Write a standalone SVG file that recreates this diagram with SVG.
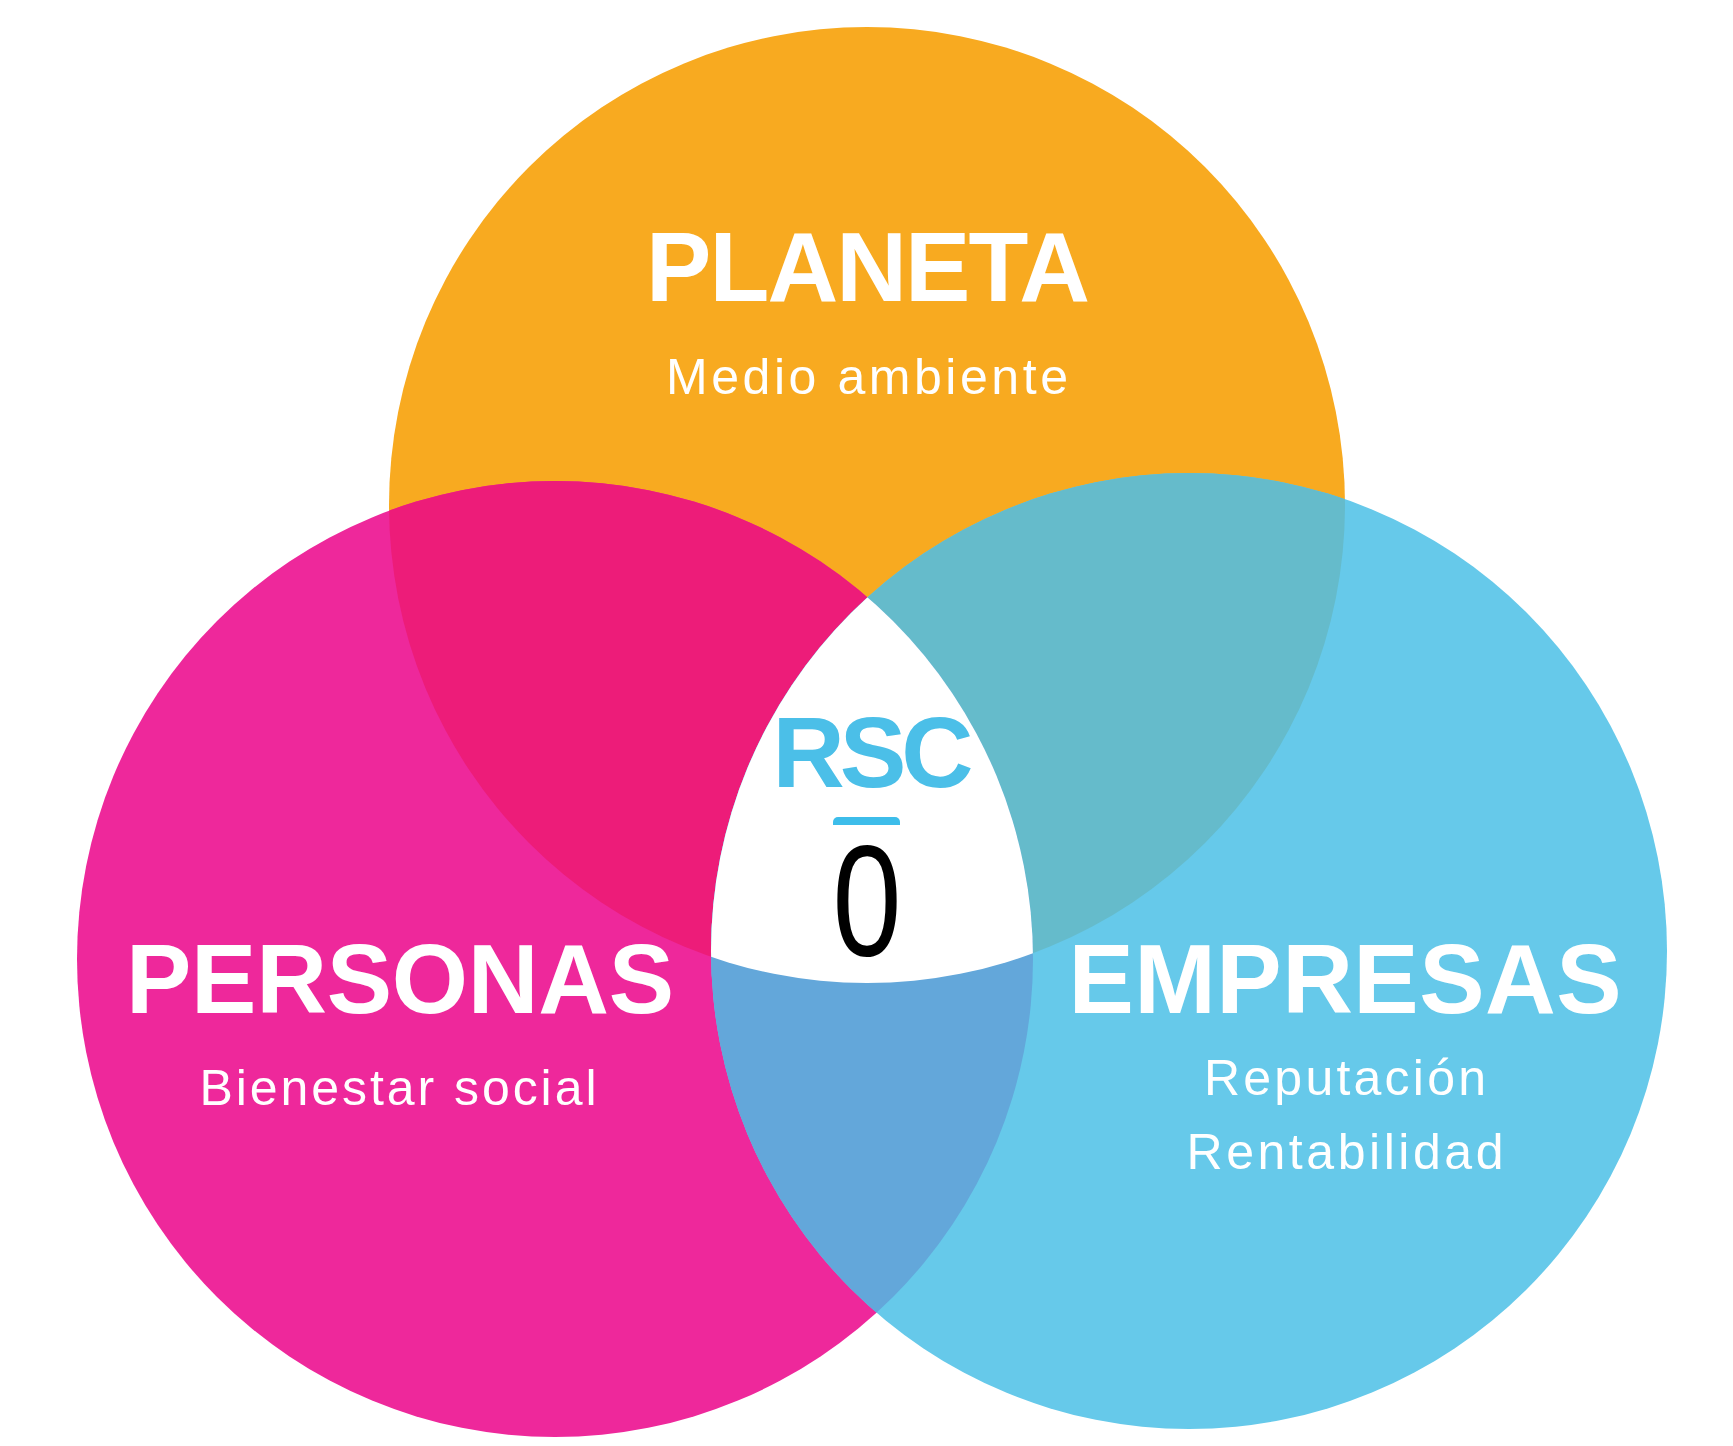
<svg xmlns="http://www.w3.org/2000/svg" width="1733" height="1446" viewBox="0 0 1733 1446">
<style>
.t{font-family:"Liberation Sans",Arial,sans-serif;fill:#fff;text-anchor:middle}
.h{font-weight:bold;font-size:98px}
.s{font-size:50px}
</style>
<defs>
<clipPath id="cO"><circle cx="867" cy="505" r="478"/></clipPath>
<clipPath id="cP"><circle cx="555" cy="959" r="478"/></clipPath>
<clipPath id="cB"><circle cx="1189" cy="951" r="478"/></clipPath>
</defs>
<rect width="1733" height="1446" fill="#fff"/>
<g id="planeta"><circle cx="867" cy="505" r="478" fill="#F8AA20"/></g>
<g id="personas"><circle cx="555" cy="959" r="478" fill="#EE289B"/></g>
<g id="empresas"><circle cx="1189" cy="951" r="478" fill="#66C9EA"/></g>
<g clip-path="url(#cO)"><circle cx="555" cy="959" r="478" fill="#ED1C79"/><circle cx="1189" cy="951" r="478" fill="#65BBCB"/></g>
<g clip-path="url(#cP)"><circle cx="1189" cy="951" r="478" fill="#63A7DA"/></g>
<g id="centro" clip-path="url(#cP)"><g clip-path="url(#cB)"><circle cx="867" cy="505" r="478" fill="#fff"/></g></g>
<g id="labels">
<text class="t h" x="868" y="301" textLength="444" lengthAdjust="spacing">PLANETA</text>
<text class="t s" x="867" y="394" textLength="402" lengthAdjust="spacing">Medio ambiente</text>
<text class="t h" x="400" y="1013" textLength="548" lengthAdjust="spacing">PERSONAS</text>
<text class="t s" x="398" y="1105" textLength="397" lengthAdjust="spacing">Bienestar social</text>
<text class="t h" x="1345" y="1013" textLength="553" lengthAdjust="spacing">EMPRESAS</text>
<text class="t s" x="1345" y="1095" textLength="282" lengthAdjust="spacing">Reputación</text>
<text class="t s" x="1345" y="1169" textLength="317" lengthAdjust="spacing">Rentabilidad</text>
<text x="873" y="787" font-family="Liberation Sans,Arial,sans-serif" font-weight="bold" font-size="100" fill="#4BBFE8" text-anchor="middle" textLength="201" lengthAdjust="spacing">RSC</text>
<path d="M833 825 v-3 a5 5 0 0 1 5 -5 h57 a5 5 0 0 1 5 5 v3 z" fill="#3DBDEA"/>
<text x="867" y="955" font-family="Liberation Sans,Arial,sans-serif" font-size="157" fill="#000" text-anchor="middle" textLength="69" lengthAdjust="spacingAndGlyphs">0</text>
</g>
</svg>
